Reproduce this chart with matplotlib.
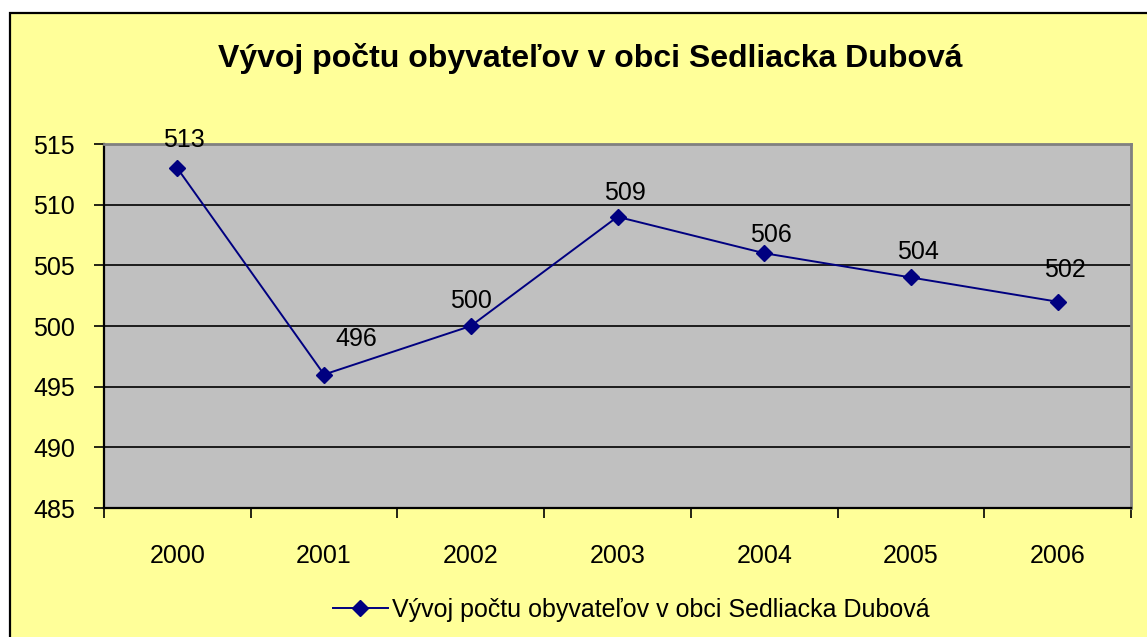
import matplotlib
matplotlib.use("Agg")
import matplotlib.pyplot as plt
from matplotlib.patches import Rectangle

# data
years = ["2000", "2001", "2002", "2003", "2004", "2005", "2006"]
population = [513, 496, 500, 509, 506, 504, 502]
series_name = "Vývoj počtu obyvateľov v obci Sedliacka Dubová"
title = "Vývoj počtu obyvateľov v obci Sedliacka Dubová"
y_ticks = [485, 490, 495, 500, 505, 510, 515]

# label offsets in px (Excel auto placement)
label_off = [(7, 28), (32, 36), (0, 25), (7, 24), (7, 18), (7, 25), (7, 32)]

plt.rcParams['font.family'] = ['Liberation Sans', 'DejaVu Sans']

fig = plt.figure(figsize=(11.47, 6.37), dpi=100)
fig.patch.set_facecolor("white")

# yellow chart area with black border (left/top)
bg = Rectangle((10 / 1147, -0.1), 1.2, 1 - 13 / 637 + 0.1, transform=fig.transFigure,
               facecolor="#FFFF99", edgecolor="black", linewidth=1.6, zorder=-10)
fig.patches.append(bg)

ax = fig.add_axes([104 / 1147, 1 - 508 / 637, (1131 - 104) / 1147, (508 - 144) / 637])
ax.set_facecolor("#C0C0C0")

x = list(range(len(years)))
ax.plot(x, population, color="#000080", linewidth=1.4, marker="D", markersize=8,
        label=series_name, zorder=3)

for xi, yi, (dx, dy) in zip(x, population, label_off):
    ax.annotate(str(yi), (xi, yi), xytext=(dx * 0.72, dy * 0.72), textcoords="offset points",
                ha="center", va="center", fontsize=18, color="black")

ax.set_xlim(-0.5, len(years) - 0.5)
ax.set_ylim(485, 515)
ax.set_yticks(y_ticks)
ax.yaxis.grid(True, color="black", linewidth=1.2)
ax.set_axisbelow(True)

ax.set_xticks(x)
ax.set_xticklabels(years, fontsize=18)
ax.tick_params(axis="x", which="major", length=0, pad=26)
ax.set_xticks([i - 0.5 for i in range(len(years) + 1)], minor=True)
ax.tick_params(axis="x", which="minor", length=7, width=1.2, direction="out", color="black")
ax.tick_params(axis="y", length=7, width=1.2, direction="out", pad=14, labelsize=18)

for s in ("left", "bottom"):
    ax.spines[s].set_color("black")
    ax.spines[s].set_linewidth(1.6)
for s in ("top", "right"):
    ax.spines[s].set_color("#808080")
    ax.spines[s].set_linewidth(2)

fig.text(590 / 1147, 1 - 58 / 637, title, ha="center", va="center",
         fontsize=23, fontweight="bold")

fig.legend(loc="center", bbox_to_anchor=(631 / 1147, 1 - 610 / 637), frameon=False,
           fontsize=18, handlelength=2.2, handletextpad=0.15)

fig.savefig("out.png", dpi=100)
